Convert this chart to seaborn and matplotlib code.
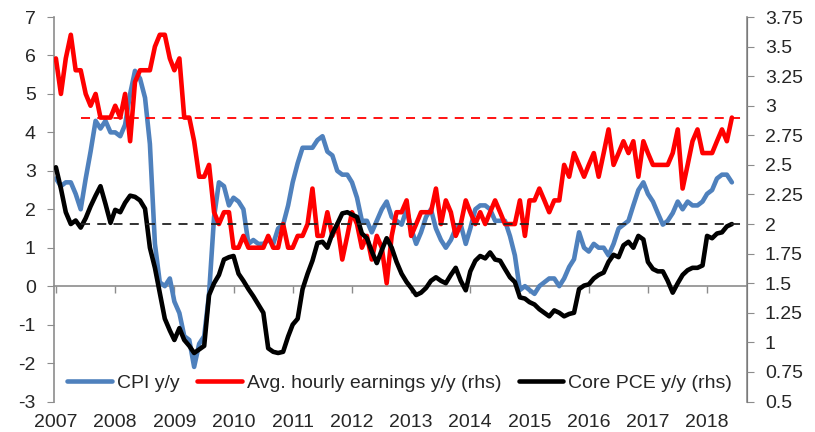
import pandas as pd
import matplotlib
matplotlib.use("Agg")
import matplotlib.pyplot as plt
import matplotlib.dates as mdates
from matplotlib.ticker import FuncFormatter
import seaborn as sns

# monthly data, Mar 2007 - Aug 2018
start = "2007-03-01"

cpi = [2.8, 2.6, 2.7, 2.7, 2.4, 2.0, 2.8, 3.5, 4.3, 4.1,
       4.3, 4.0, 4.0, 3.9, 4.2, 5.0, 5.6, 5.4, 4.9, 3.7, 1.1, 0.1,
       0.0, 0.2, -0.4, -0.7, -1.3, -1.4, -2.1, -1.5, -1.3, -0.2, 1.8, 2.7,
       2.6, 2.1, 2.3, 2.2, 2.0, 1.1, 1.2, 1.1, 1.1, 1.2, 1.1, 1.5,
       1.6, 2.1, 2.7, 3.2, 3.6, 3.6, 3.6, 3.8, 3.9, 3.5, 3.4, 3.0,
       2.9, 2.9, 2.7, 2.3, 1.7, 1.7, 1.4, 1.7, 2.0, 2.2, 1.8, 1.7,
       1.6, 2.0, 1.5, 1.1, 1.4, 1.8, 2.0, 1.5, 1.2, 1.0, 1.2, 1.5,
       1.6, 1.1, 1.5, 2.0, 2.1, 2.1, 2.0, 1.7, 1.7, 1.7, 1.3, 0.8,
       -0.1, 0.0, -0.1, -0.2, 0.0, 0.1, 0.2, 0.2, 0.0, 0.2, 0.5, 0.7,
       1.4, 1.0, 0.9, 1.1, 1.0, 1.0, 0.8, 1.1, 1.5, 1.6, 1.7, 2.1,
       2.5, 2.7, 2.4, 2.2, 1.9, 1.6, 1.7, 1.9, 2.2, 2.0, 2.2, 2.1,
       2.1, 2.2, 2.4, 2.5, 2.8, 2.9, 2.9, 2.7]

earnings = [3.4, 3.1, 3.4, 3.6, 3.3, 3.3, 3.1, 3.0, 3.1, 2.9,
            2.9, 2.9, 3.0, 2.9, 3.1, 2.7, 3.2, 3.3, 3.3, 3.3, 3.5, 3.6,
            3.6, 3.4, 3.3, 3.4, 2.9, 2.9, 2.7, 2.4, 2.4, 2.5, 2.1, 2.0,
            2.1, 2.1, 1.8, 1.8, 1.9, 1.8, 1.8, 1.8, 1.8, 1.9, 1.8, 1.8,
            2.0, 1.8, 1.8, 1.9, 1.9, 2.0, 2.3, 1.9, 1.9, 2.1, 1.9, 2.0,
            1.7, 1.9, 2.1, 2.0, 1.8, 1.9, 1.7, 1.9, 1.8, 1.5, 1.9, 2.1,
            2.1, 2.2, 1.9, 2.0, 2.1, 2.1, 2.1, 2.3, 2.0, 2.2, 2.1, 1.9,
            2.0, 2.2, 2.1, 2.0, 2.1, 2.0, 2.1, 2.2, 2.1, 2.0, 2.0, 2.0,
            2.2, 1.9, 2.2, 2.2, 2.3, 2.2, 2.1, 2.2, 2.2, 2.5, 2.4, 2.6,
            2.5, 2.4, 2.5, 2.6, 2.4, 2.6, 2.8, 2.5, 2.6, 2.7, 2.6, 2.7,
            2.4, 2.7, 2.6, 2.5, 2.5, 2.5, 2.5, 2.6, 2.8, 2.3, 2.5, 2.7,
            2.8, 2.6, 2.6, 2.6, 2.7, 2.8, 2.7, 2.9]

core_pce = [2.48, 2.3, 2.1, 2.0, 2.03, 1.97, 2.05, 2.15, 2.24, 2.32,
            2.17, 2.01, 2.12, 2.10, 2.18, 2.24, 2.23, 2.2, 2.13, 1.8, 1.63, 1.42,
            1.2, 1.10, 1.02, 1.12, 1.02, 0.97, 0.91, 0.94, 0.97, 1.4, 1.5, 1.57,
            1.70, 1.72, 1.73, 1.58, 1.52, 1.45, 1.39, 1.32, 1.25, 0.95, 0.92, 0.91,
            0.92, 1.05, 1.15, 1.2, 1.45, 1.58, 1.69, 1.84, 1.85, 1.80, 1.92, 2.0,
            2.09, 2.10, 2.08, 2.06, 1.92, 1.88, 1.77, 1.67, 1.78, 1.88, 1.8, 1.68,
            1.58, 1.51, 1.46, 1.40, 1.42, 1.46, 1.52, 1.55, 1.52, 1.50, 1.57, 1.63,
            1.52, 1.44, 1.6, 1.69, 1.73, 1.71, 1.76, 1.70, 1.69, 1.62, 1.55, 1.51,
            1.38, 1.37, 1.34, 1.32, 1.28, 1.25, 1.22, 1.27, 1.25, 1.22, 1.24, 1.25,
            1.45, 1.48, 1.49, 1.54, 1.57, 1.59, 1.68, 1.74, 1.72, 1.82, 1.85, 1.80,
            1.90, 1.87, 1.68, 1.62, 1.60, 1.60, 1.52, 1.42, 1.50, 1.57, 1.61, 1.63,
            1.63, 1.65, 1.9, 1.88, 1.92, 1.93, 1.98, 2.0]

years = list(range(2007, 2019))
earnings_ref = 2.9
pce_ref = 2.0

dates = pd.date_range(start, periods=len(cpi), freq="MS")
tick_dates = pd.date_range(start, periods=len(years), freq="12MS")
x_lo = pd.Timestamp("2007-02-16")
x_hi = pd.Timestamp("2018-11-01")
ref_from = pd.Timestamp("2007-08-01")

sns.set_style("white")
plt.rcParams["font.family"] = ["Liberation Sans", "DejaVu Sans"]
plt.rcParams["axes.unicode_minus"] = False

grey = "#8c8c8c"
fig = plt.figure(figsize=(8.15, 4.32), dpi=100)
ax = fig.add_axes([0.066, 0.0706, 0.8503, 0.89])
ax2 = ax.twinx()

sns.lineplot(x=dates, y=cpi, ax=ax, color="#4f81bd", linewidth=3.3, label="CPI y/y")
sns.lineplot(x=dates, y=earnings, ax=ax2, color="#ff0000", linewidth=3.3,
             label="Avg. hourly earnings y/y (rhs)")
sns.lineplot(x=dates, y=core_pce, ax=ax2, color="black", linewidth=3.3,
             label="Core PCE y/y (rhs)")

ax2.hlines(earnings_ref, ref_from, x_hi, colors="#ff0000", linestyles=(0, (5, 4)), linewidth=1.3)
ax2.hlines(pce_ref, ref_from, x_hi, colors="#222222", linestyles=(0, (5, 4)), linewidth=1.3)

ax.set_xlim(x_lo, x_hi)
ax.set_ylim(-3, 7)
ax2.set_ylim(0.5, 3.75)
ax.set_yticks(range(-3, 8))
ax2.set_yticks([0.5 + 0.25 * i for i in range(14)])
ax2.yaxis.set_major_formatter(FuncFormatter(lambda v, p: f"{v:g}"))

ax.set_xticks(tick_dates)
ax.set_xticklabels([str(y) for y in years])
ax.set_xlabel("")
ax.set_ylabel("")
ax2.set_ylabel("")

# zero line with year tick marks
sec = ax.secondary_xaxis(0.3)
sec.set_xticks(mdates.date2num(tick_dates))
sec.tick_params(axis="x", direction="out", length=5, color=grey, width=1,
                labelbottom=False, labeltop=False)
for s in sec.spines.values():
    s.set_color(grey)
    s.set_linewidth(1.2)

for a in (ax, ax2):
    for side in ("top", "bottom"):
        a.spines[side].set_visible(False)
ax2.spines["left"].set_visible(False)
ax.spines["left"].set_color(grey)
ax.spines["left"].set_linewidth(1.2)
ax2.spines["right"].set_color(grey)
ax2.spines["right"].set_linewidth(1.2)

ax.tick_params(axis="y", left=True, direction="out", length=5, color=grey,
               labelsize=14, pad=8)
ax2.tick_params(axis="y", right=True, direction="out", length=5, color=grey,
                labelsize=14, pad=8)
ax.tick_params(axis="x", bottom=True, length=0, labelsize=14, pad=9)

h1, l1 = ax.get_legend_handles_labels()
h2, l2 = ax2.get_legend_handles_labels()
if ax.get_legend():
    ax.get_legend().remove()
if ax2.get_legend():
    ax2.get_legend().remove()
ax2.legend(h1 + h2, l1 + l2, loc="center", bbox_to_anchor=(0.499, 0.048), ncol=3,
           frameon=False, fontsize=14, handlelength=2.3, handletextpad=0.25,
           columnspacing=0.9)

fig.savefig("out.png", dpi=100)
